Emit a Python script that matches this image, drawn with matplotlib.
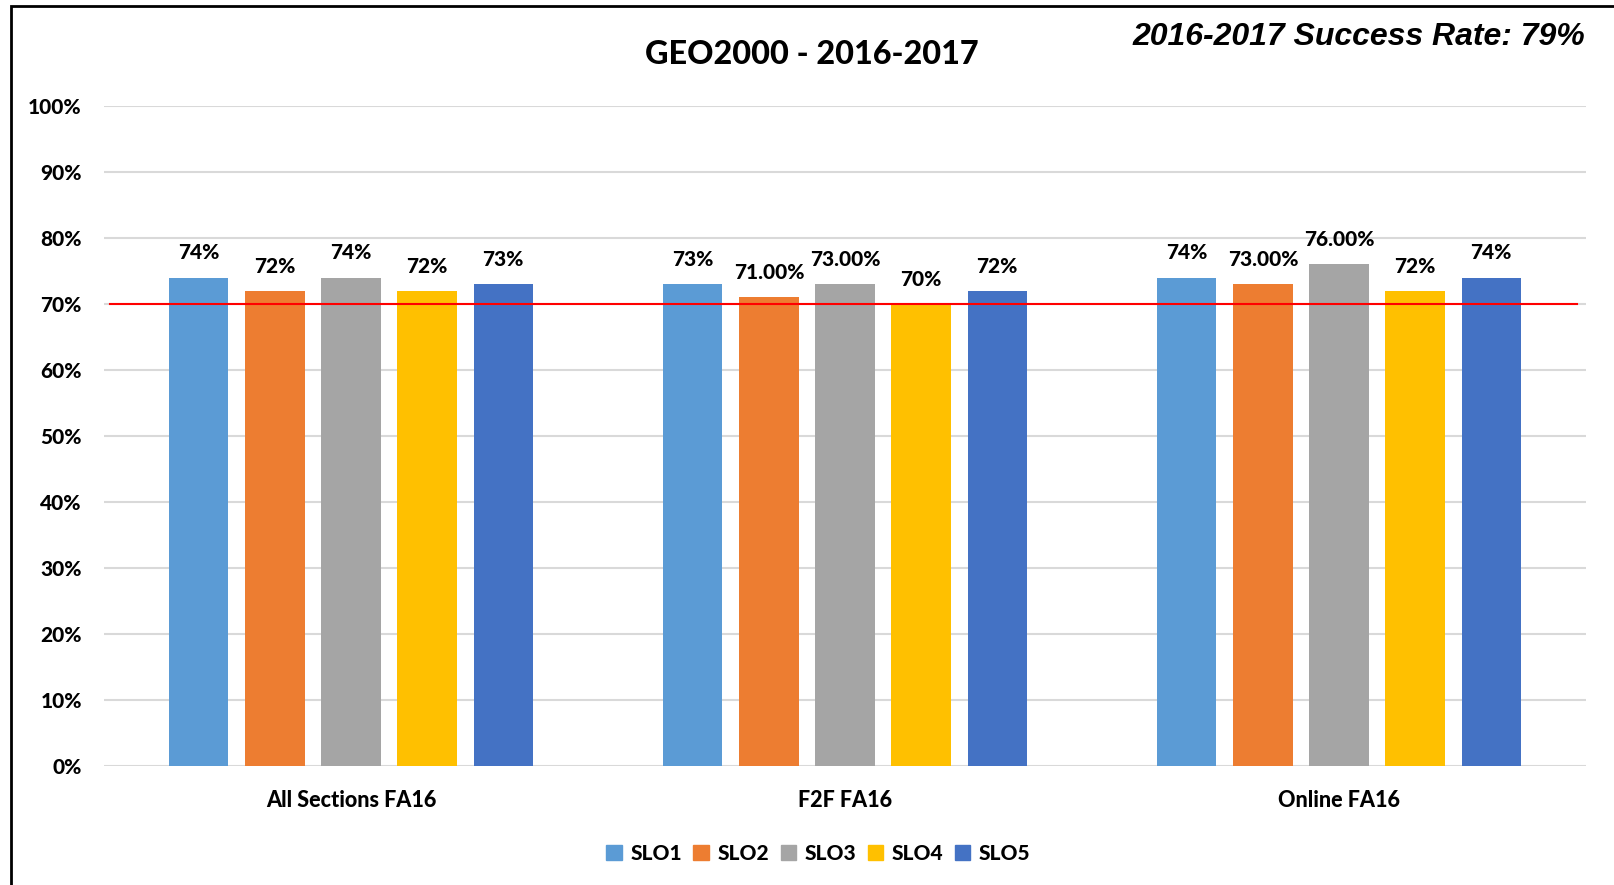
import numpy as np
import matplotlib.pyplot as plt
from matplotlib.patches import Rectangle, Patch

categories = ["All Sections FA16", "F2F FA16", "Online FA16"]
series = ["SLO1", "SLO2", "SLO3", "SLO4", "SLO5"]
values = [
    [0.74, 0.73, 0.74],  # SLO1
    [0.72, 0.71, 0.73],  # SLO2
    [0.74, 0.73, 0.76],  # SLO3
    [0.72, 0.70, 0.72],  # SLO4
    [0.73, 0.72, 0.74],  # SLO5
]
labels = [
    ["74%", "73%", "74%"],
    ["72%", "71.00%", "73.00%"],
    ["74%", "73.00%", "76.00%"],
    ["72%", "70%", "72%"],
    ["73%", "72%", "74%"],
]
colors = ["#5B9BD5", "#ED7D31", "#A5A5A5", "#FFC000", "#4472C4"]
target = 0.70

plt.rcParams['font.family'] = ['Lato', 'DejaVu Sans']
W = 900

fig = plt.figure(figsize=(16.14, 8.85), dpi=100)
ax = fig.add_axes([104/1614, 1-766/885, 1482/1614, 660/885])

x = np.arange(len(categories))
step = 0.154
width = 0.12
for i, s in enumerate(series):
    pos = x + (i-2)*step
    ax.bar(pos, values[i], width, color=colors[i], label=s, zorder=2)
    for px, v, lab in zip(pos, values[i], labels[i]):
        ax.annotate(lab, (px, v), xytext=(0, 11), textcoords="offset points",
                    ha="center", va="bottom", fontsize=15, fontweight=W)

ax.axhline(target, xmin=0.004, xmax=0.994, color="red", lw=1.5, zorder=3)

ax.set_xlim(-0.5, 2.5)
ax.set_ylim(0, 1)
ax.set_yticks(np.arange(0, 1.01, 0.1))
ax.set_yticklabels([f"{int(round(t*100))}%" for t in np.arange(0, 1.01, 0.1)],
                   fontsize=15, fontweight=W)
ax.set_xticks(x)
ax.set_xticklabels(categories, fontsize=15.5, fontweight=W)
ax.tick_params(axis="both", length=0)
ax.tick_params(axis="y", pad=16)
ax.tick_params(axis="x", pad=17)
ax.grid(axis="y", color="#d9d9d9", lw=1.5, zorder=0)
ax.set_axisbelow(True)
for sp in ax.spines.values():
    sp.set_visible(False)

fig.text(0.503, 0.938, "GEO2000 - 2016-2017", ha="center", va="center",
         fontsize=23.3, fontweight=W)
fig.text(0.982, 0.958, "2016-2017 Success Rate: 79%", ha="right", va="center",
         fontsize=23, fontweight="bold", style="italic", family="Liberation Sans")

handles = [Patch(color=c, label=s) for c, s in zip(colors, series)]
fig.legend(handles=handles, loc="center", bbox_to_anchor=(0.507, 0.036), ncol=5,
           frameon=False, prop={"size": 15, "weight": W},
           handlelength=0.75, handleheight=0.75, handletextpad=0.4, columnspacing=0.55)

fig.patches.append(Rectangle((11/1614, -0.1), 1.2, 1-6/885+0.1, transform=fig.transFigure,
                             fill=False, edgecolor="black", lw=2))

fig.savefig("out.png", dpi=100)
